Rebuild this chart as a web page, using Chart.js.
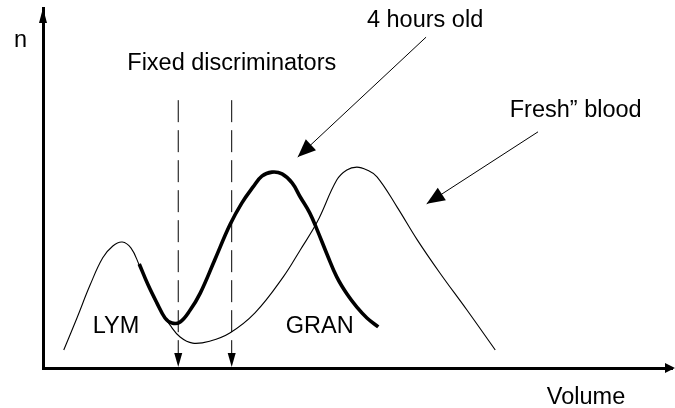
<!DOCTYPE html>
<html>
<head>
<meta charset="utf-8">
<script src="https://cdn.jsdelivr.net/npm/chart.js@4/dist/chart.umd.min.js"></script>
<style>
  html, body { margin: 0; padding: 0; background: #ffffff; }
  #c { display: block; }
</style>
</head>
<body>
<canvas id="c" width="675" height="408"></canvas>
<script>
// Cell volume distribution of fresh blood (thin curve)
const freshVolume = [3.3, 5.4, 7.5, 9.5, 11.1, 12.6, 14.0, 15.3, 17.0, 18.6, 20.2, 21.8, 23.8, 26.6, 29.7,
  33.7, 38.2, 40.9, 43.6, 46.7, 48.3, 49.9, 51.5, 53.1, 56.3, 59.5, 63.1, 67.4, 71.9];
const freshCount = [5.0, 13.9, 23.1, 30.6, 33.9, 35.0, 33.3, 28.6, 21.7, 16.1, 11.9, 8.6, 6.9, 7.5, 9.7,
  15.3, 25.3, 32.8, 40.6, 52.2, 55.0, 55.8, 55.0, 53.1, 44.7, 35.6, 26.4, 16.1, 5.0];

// Distribution of blood stored for 4 hours (thick curve)
const agedVolume = [15.3, 16.7, 18.1, 19.4, 20.5, 21.8, 23.4, 25.0, 27.3, 29.7, 31.6, 33.4, 34.8, 36.4,
  38.0, 39.6, 40.9, 42.4, 43.6, 45.2, 46.7, 48.3, 49.9, 51.5, 53.3];
const agedCount = [28.9, 23.1, 18.1, 13.9, 12.5, 12.8, 16.1, 20.8, 30.0, 39.7, 45.8, 50.3, 53.3, 54.4,
  53.9, 51.4, 47.5, 43.1, 38.3, 31.4, 25.3, 20.6, 16.9, 13.9, 11.4];

// Fixed discriminator positions on the volume axis, and the height their markers start from
const discriminatorVolume = [21.5, 30.0];
const discriminatorTop = 74.4;

// Axis names
const axisNames = { x: 'Volume', y: 'n' };

const toPoints = (xs, ys) => xs.map((v, i) => ({ x: v, y: ys[i] }));

// Text labels anchored in data coordinates (left edge, baseline)
const labelSpecs = [
  { text: '4 hours old', x: 51.5, y: 94.7 },
  { text: 'Fixed discriminators', x: 13.4, y: 82.8 },
  { text: 'Fresh\u201d blood', x: 74.2, y: 69.7 },
  { text: 'LYM', x: 7.9, y: 9.7 },
  { text: 'GRAN', x: 38.6, y: 9.7 }
];

// Pointer arrows from the captions to their curves
const pointerSpecs = [
  { from: { x: 60.9, y: 91.9 }, to: { x: 40.5, y: 58.6 } },
  { from: { x: 78.7, y: 65.6 }, to: { x: 61.0, y: 45.6 } }
];

const FONT = '23.5px "Liberation Sans", Arial, sans-serif';

function arrowHead(ctx, tipX, tipY, fromX, fromY, len, halfW) {
  const a = Math.atan2(tipY - fromY, tipX - fromX);
  const bx = tipX - Math.cos(a) * len, by = tipY - Math.sin(a) * len;
  const nx = -Math.sin(a) * halfW, ny = Math.cos(a) * halfW;
  ctx.beginPath();
  ctx.moveTo(tipX, tipY);
  ctx.lineTo(bx + nx, by + ny);
  ctx.lineTo(bx - nx, by - ny);
  ctx.closePath();
  ctx.fill();
}

const decorations = {
  id: 'decorations',
  afterDatasetsDraw(chart) {
    const ctx = chart.ctx;
    const xs = chart.scales.x, ys = chart.scales.y;
    const area = chart.chartArea;
    ctx.save();
    ctx.fillStyle = '#000';
    ctx.strokeStyle = '#000';

    // axis arrowheads
    arrowHead(ctx, area.left, area.top, area.left, area.top + 20, 15, 4);
    arrowHead(ctx, chart.width, area.bottom, chart.width - 20, area.bottom, 10, 5);

    // arrowheads at the foot of the discriminator lines
    discriminatorVolume.forEach(v => {
      const px = xs.getPixelForValue(v);
      arrowHead(ctx, px, ys.getPixelForValue(0) - 1, px, ys.getPixelForValue(0) - 30, 14, 4);
    });

    // pointer arrows
    ctx.lineWidth = 1;
    pointerSpecs.forEach(p => {
      const x1 = xs.getPixelForValue(p.from.x), y1 = ys.getPixelForValue(p.from.y);
      const x2 = xs.getPixelForValue(p.to.x), y2 = ys.getPixelForValue(p.to.y);
      ctx.beginPath();
      ctx.moveTo(x1, y1);
      ctx.lineTo(x2, y2);
      ctx.stroke();
      arrowHead(ctx, x2, y2, x1, y1, 18, 7.5);
    });

    // text labels
    ctx.font = FONT;
    ctx.textAlign = 'left';
    ctx.textBaseline = 'alphabetic';
    labelSpecs.forEach(l => {
      ctx.fillText(l.text, xs.getPixelForValue(l.x), ys.getPixelForValue(l.y));
    });

    // axis names
    ctx.fillText(axisNames.y, area.left - 29, area.top + 39);
    ctx.fillText(axisNames.x, xs.getPixelForValue(80.1), area.bottom + 36);
    ctx.restore();
  }
};

const hiddenAxis = (min, max) => ({
  type: 'linear',
  min, max,
  grid: { display: false, drawTicks: false },
  ticks: { display: false },
  border: { display: true, width: 3, color: '#000' }
});

new Chart(document.getElementById('c'), {
  type: 'line',
  data: {
    datasets: [
      {
        label: 'Fresh\u201d blood',
        data: toPoints(freshVolume, freshCount),
        borderColor: '#000',
        borderWidth: 1.1,
        pointRadius: 0,
        tension: 0.4,
        fill: false
      },
      {
        label: '4 hours old',
        data: toPoints(agedVolume, agedCount),
        borderColor: '#000',
        borderWidth: 3.6,
        pointRadius: 0,
        tension: 0.4,
        fill: false
      },
      ...discriminatorVolume.map(v => ({
        label: 'Fixed discriminators',
        data: [{ x: v, y: discriminatorTop }, { x: v, y: 0 }],
        borderColor: '#000',
        borderWidth: 1,
        borderDash: [22, 8],
        pointRadius: 0,
        fill: false
      }))
    ]
  },
  options: {
    responsive: false,
    animation: false,
    devicePixelRatio: 1,
    layout: { padding: { left: 43, right: 3, top: 8, bottom: 40 } },
    plugins: { legend: { display: false }, tooltip: { enabled: false } },
    scales: { x: hiddenAxis(0, 100), y: hiddenAxis(0, 100) }
  },
  plugins: [decorations]
});
</script>
</body>
</html>
